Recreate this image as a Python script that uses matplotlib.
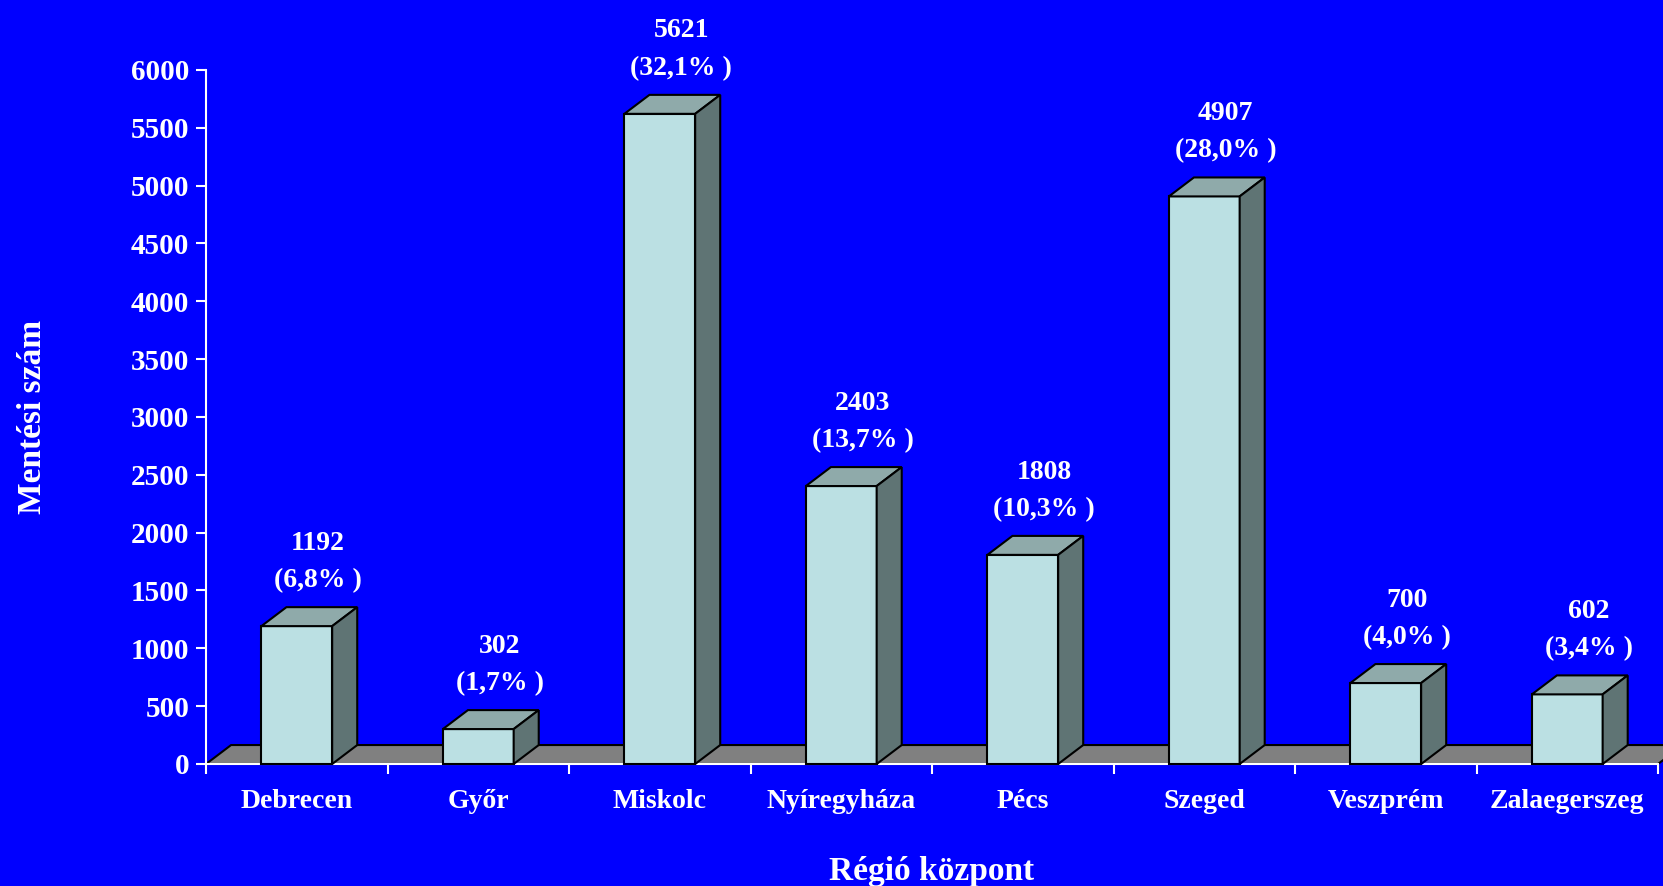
import matplotlib.pyplot as plt
from matplotlib.patches import Polygon

# adatok
regiok = ['Debrecen', 'Győr', 'Miskolc', 'Nyíregyháza', 'Pécs', 'Szeged', 'Veszprém', 'Zalaegerszeg']
mentesek = [1192, 302, 5621, 2403, 1808, 4907, 700, 602]
szazalek = ['6,8', '1,7', '32,1', '13,7', '10,3', '28,0', '4,0', '3,4']

# színek
hatter = '#0000FF'
elo = '#BBE0E3'
teto = '#8FAAAA'
oldal = '#5F7474'
padlo = '#808080'

plt.rcParams['font.family'] = ['Liberation Serif', 'DejaVu Serif']
plt.rcParams['font.weight'] = 'bold'

fig = plt.figure(figsize=(16.63, 8.86), dpi=100, facecolor=hatter)
ax = fig.add_axes([0.1239, 0.1377, 0.8731, 0.7833])
ax.set_facecolor(hatter)

ax.set_xlim(0, 8)
ax.set_ylim(0, 6000)

# 3D eltolás (adategységben)
dx = 0.138
dy = 164
w = 0.39

# padló
ax.add_patch(Polygon([(0, 0), (8, 0), (8 + dx, dy), (dx, dy)], closed=True,
                     facecolor=padlo, edgecolor='black', lw=1.5, zorder=1, clip_on=False))

for i, v in enumerate(mentesek):
    x0 = i + 0.5 - w / 2
    x1 = i + 0.5 + w / 2
    ax.add_patch(Polygon([(x0, 0), (x1, 0), (x1, v), (x0, v)], closed=True,
                         facecolor=elo, edgecolor='black', lw=1.5, zorder=3, clip_on=False))
    ax.add_patch(Polygon([(x0, v), (x1, v), (x1 + dx, v + dy), (x0 + dx, v + dy)], closed=True,
                         facecolor=teto, edgecolor='black', lw=1.5, zorder=3, clip_on=False))
    ax.add_patch(Polygon([(x1, 0), (x1 + dx, dy), (x1 + dx, v + dy), (x1, v)], closed=True,
                         facecolor=oldal, edgecolor='black', lw=1.5, zorder=3, clip_on=False))
    cx = i + 0.5 + dx * 0.85
    ax.annotate(str(v), (cx, v + dy), xytext=(0, 46), textcoords='offset points',
                ha='center', va='center', color='white', fontsize=20, fontweight='bold',
                annotation_clip=False)
    ax.annotate('(' + szazalek[i] + '% )', (cx, v + dy), xytext=(0, 19), textcoords='offset points',
                ha='center', va='center', color='white', fontsize=20, fontweight='bold',
                annotation_clip=False)

# tengelyek
for s in ['top', 'right']:
    ax.spines[s].set_visible(False)
for s in ['left', 'bottom']:
    ax.spines[s].set_color('white')
    ax.spines[s].set_linewidth(1.5)
    ax.spines[s].set_zorder(2)

ax.set_yticks(range(0, 6001, 500))
ax.set_xticks(range(0, 9))
ax.set_xticklabels([])
ax.set_xticks([i + 0.5 for i in range(8)], minor=True)
ax.set_xticklabels(regiok, minor=True)
ax.tick_params(axis='x', which='minor', length=0, pad=18, labelsize=20, labelcolor='white')
ax.tick_params(axis='x', which='major', length=7, width=1.5, color='white', direction='out')
ax.tick_params(axis='y', length=7, width=1.5, color='white', direction='out', pad=5,
               labelsize=21, labelcolor='white')
for lab in ax.get_xticklabels(minor=True) + ax.get_yticklabels():
    lab.set_fontweight('bold')

ax.set_xlabel('Régió központ', fontsize=24, fontweight='bold', color='white', labelpad=30)
ax.set_ylabel('Mentési szám', fontsize=24, fontweight='bold', color='white', labelpad=60)

plt.savefig('out.png', dpi=100, facecolor=hatter)
